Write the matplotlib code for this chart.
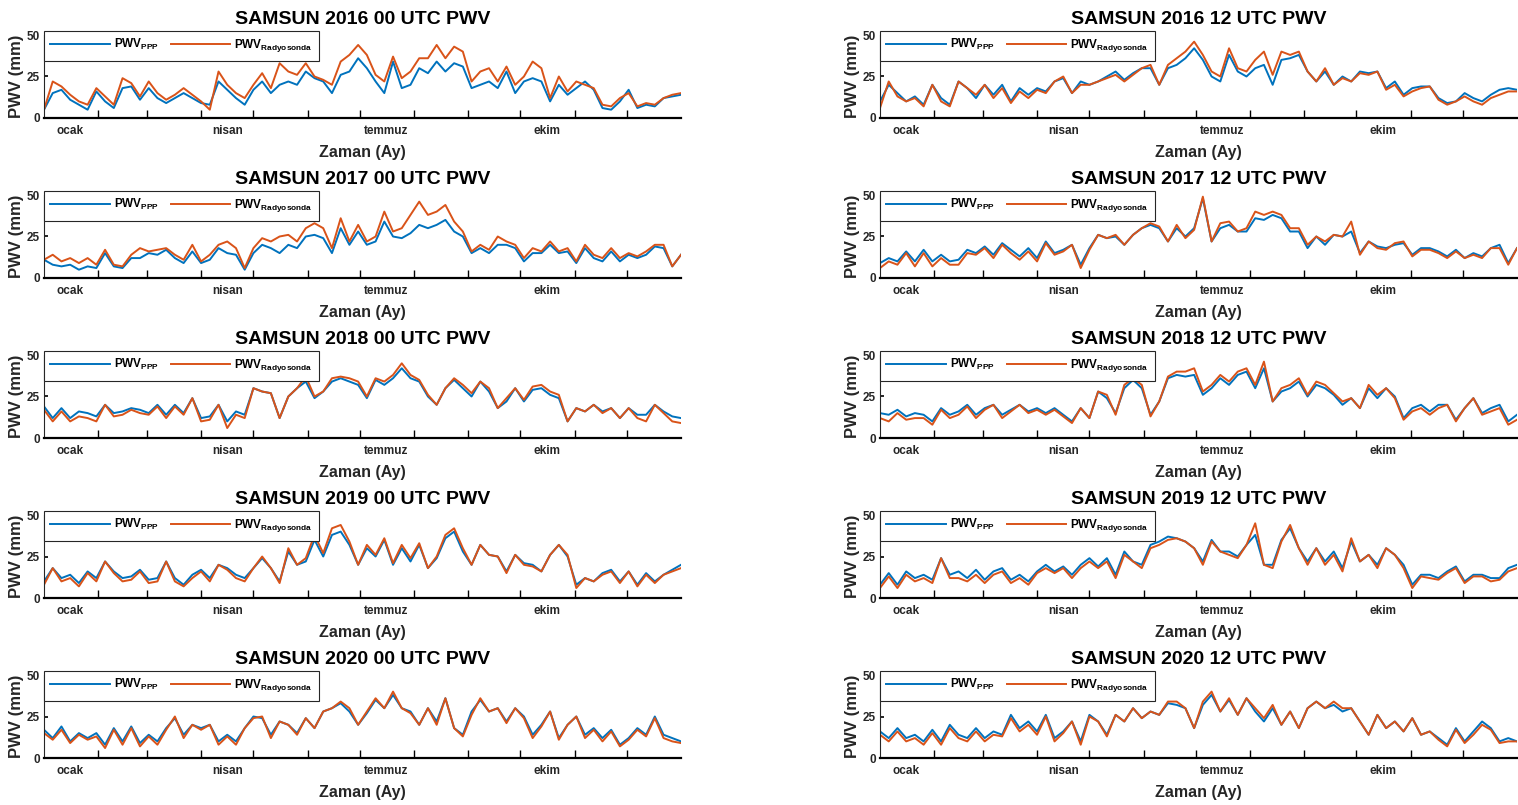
import matplotlib
matplotlib.use('Agg')
import matplotlib.pyplot as plt
import numpy as np

plt.rcParams['font.family'] = ['Liberation Sans', 'DejaVu Sans']
plt.rcParams['mathtext.fontset'] = 'custom'
plt.rcParams['mathtext.rm'] = 'Liberation Sans:bold'
plt.rcParams['mathtext.it'] = 'Liberation Sans:bold'
plt.rcParams['mathtext.bf'] = 'Liberation Sans:bold'

# gun (yilin gunu), 5 gunde bir okunan degerler
days = np.arange(0, 366, 5)

ppp_2016_00 = [5, 15, 17, 11, 8, 5, 16, 10, 6, 18,
               19, 11, 18, 12, 9, 12, 15, 12, 9, 8,
               22, 17, 12, 8, 17, 22, 15, 20, 22, 20,
               28, 24, 22, 15, 26, 28, 36, 30, 22, 15,
               34, 18, 20, 30, 27, 34, 28, 33, 31, 18,
               20, 22, 18, 28, 15, 22, 24, 22, 10, 20,
               14, 18, 22, 17, 6, 5, 10, 17, 6, 8,
               7, 12, 13, 14]
rs_2016_00 = [5, 22, 19, 14, 10, 8, 18, 13, 8, 24,
              21, 13, 22, 15, 11, 14, 18, 14, 10, 5,
              28, 20, 15, 12, 20, 27, 18, 33, 28, 26,
              33, 25, 23, 20, 34, 38, 44, 38, 26, 22,
              37, 24, 28, 36, 36, 44, 36, 43, 40, 22,
              28, 30, 22, 31, 20, 25, 34, 30, 12, 25,
              16, 22, 20, 18, 8, 7, 12, 15, 7, 9,
              8, 12, 14, 15]

ppp_2016_12 = [10, 20, 15, 10, 13, 8, 20, 12, 8, 22,
               18, 12, 20, 14, 20, 10, 18, 14, 18, 16,
               22, 24, 15, 22, 20, 22, 25, 28, 23, 27,
               30, 30, 20, 30, 32, 36, 42, 35, 25, 22,
               38, 28, 25, 30, 32, 20, 35, 36, 38, 28,
               22, 28, 20, 25, 22, 28, 27, 28, 18, 22,
               14, 18, 19, 19, 12, 9, 10, 15, 12, 10,
               14, 17, 18, 17]
rs_2016_12 = [6, 22, 13, 10, 12, 7, 20, 10, 7, 22,
              18, 14, 20, 12, 18, 9, 16, 12, 17, 15,
              22, 25, 15, 20, 20, 22, 24, 26, 22, 26,
              30, 32, 20, 32, 36, 40, 46, 38, 28, 25,
              42, 30, 28, 35, 40, 26, 40, 38, 40, 28,
              22, 30, 20, 24, 22, 27, 26, 28, 17, 20,
              13, 16, 18, 19, 11, 8, 10, 13, 10, 8,
              12, 14, 16, 16]

ppp_2017_00 = [11, 8, 7, 8, 5, 7, 6, 15, 7, 6,
               12, 12, 15, 14, 17, 12, 9, 16, 9, 11,
               18, 15, 14, 5, 15, 20, 18, 15, 20, 18,
               25, 26, 24, 15, 30, 20, 28, 20, 22, 34,
               25, 24, 27, 32, 30, 32, 35, 28, 25, 15,
               18, 15, 20, 20, 18, 10, 15, 15, 20, 15,
               16, 9, 18, 12, 10, 16, 10, 14, 12, 14,
               19, 18, 7, 14]
rs_2017_00 = [11, 14, 10, 12, 9, 12, 8, 17, 8, 7,
              14, 18, 16, 17, 18, 14, 11, 20, 10, 14,
              20, 22, 18, 6, 18, 24, 22, 25, 26, 22,
              30, 33, 30, 18, 36, 22, 32, 22, 25, 40,
              28, 30, 38, 46, 38, 40, 44, 34, 28, 16,
              20, 17, 25, 22, 20, 12, 18, 16, 22, 16,
              18, 10, 20, 14, 12, 18, 12, 15, 13, 16,
              20, 20, 7, 14]

ppp_2017_12 = [9, 12, 10, 16, 10, 17, 10, 14, 10, 11,
               17, 15, 19, 14, 21, 17, 13, 18, 12, 22,
               15, 17, 20, 8, 18, 26, 24, 25, 20, 26,
               30, 32, 30, 22, 30, 25, 30, 48, 22, 30,
               32, 28, 28, 36, 35, 38, 36, 28, 28, 18,
               25, 20, 26, 25, 28, 15, 22, 19, 18, 20,
               21, 14, 18, 18, 16, 13, 17, 12, 15, 13,
               18, 20, 9, 18]
rs_2017_12 = [6, 10, 8, 15, 7, 15, 7, 12, 8, 8,
              15, 14, 18, 12, 20, 15, 11, 16, 10, 21,
              14, 16, 20, 6, 17, 26, 24, 26, 20, 26,
              30, 33, 31, 22, 32, 24, 29, 49, 22, 33,
              34, 28, 30, 40, 38, 40, 38, 30, 30, 20,
              25, 22, 26, 25, 34, 14, 22, 18, 17, 21,
              22, 13, 17, 17, 15, 12, 16, 12, 14, 12,
              18, 18, 8, 18]

ppp_2018_00 = [19, 12, 18, 12, 16, 15, 13, 20, 15, 16,
               18, 17, 15, 20, 14, 20, 15, 24, 12, 13,
               20, 10, 16, 14, 30, 28, 27, 12, 25, 30,
               34, 24, 28, 34, 36, 34, 32, 24, 35, 32,
               36, 42, 36, 34, 25, 20, 30, 35, 30, 25,
               34, 28, 18, 22, 30, 22, 29, 30, 26, 24,
               10, 18, 16, 20, 16, 18, 12, 18, 14, 14,
               20, 16, 13, 12]
rs_2018_00 = [17, 10, 16, 10, 13, 12, 10, 20, 13, 14,
              17, 15, 14, 19, 12, 19, 14, 24, 10, 11,
              20, 6, 14, 12, 30, 28, 27, 12, 25, 30,
              37, 25, 28, 36, 37, 36, 34, 25, 36, 34,
              38, 45, 38, 35, 26, 20, 30, 36, 32, 27,
              34, 30, 18, 24, 30, 23, 31, 32, 28, 26,
              10, 18, 16, 20, 15, 18, 12, 18, 12, 10,
              20, 15, 10, 9]

ppp_2018_12 = [15, 14, 17, 13, 15, 14, 10, 18, 14, 16,
               20, 14, 18, 20, 14, 17, 20, 16, 18, 15,
               18, 14, 10, 18, 12, 28, 24, 15, 30, 35,
               30, 14, 22, 36, 38, 37, 38, 26, 30, 36,
               32, 38, 40, 30, 42, 22, 28, 30, 34, 25,
               32, 30, 26, 20, 24, 18, 30, 24, 30, 25,
               12, 18, 20, 16, 20, 20, 11, 18, 24, 15,
               18, 20, 10, 14]
rs_2018_12 = [12, 10, 15, 11, 12, 12, 8, 17, 12, 14,
              19, 12, 17, 20, 12, 16, 20, 15, 17, 14,
              17, 13, 9, 18, 12, 28, 26, 14, 32, 36,
              32, 13, 22, 37, 40, 40, 42, 28, 32, 38,
              34, 40, 42, 32, 46, 22, 30, 32, 36, 26,
              34, 32, 27, 22, 24, 18, 32, 26, 30, 24,
              11, 16, 18, 14, 18, 20, 10, 18, 24, 14,
              16, 18, 8, 11]

ppp_2019_00 = [10, 18, 12, 14, 9, 16, 12, 22, 16, 12,
               13, 17, 11, 12, 22, 12, 8, 14, 17, 12,
               20, 18, 14, 12, 18, 24, 18, 10, 28, 20,
               22, 35, 25, 38, 40, 32, 20, 30, 25, 35,
               20, 30, 22, 32, 18, 24, 36, 40, 28, 20,
               32, 26, 25, 16, 26, 21, 20, 16, 26, 32,
               25, 8, 12, 10, 15, 17, 10, 16, 8, 15,
               10, 14, 17, 20]
rs_2019_00 = [8, 18, 10, 12, 7, 15, 10, 22, 15, 10,
              11, 16, 9, 10, 22, 10, 7, 12, 16, 10,
              20, 17, 12, 10, 18, 25, 18, 9, 30, 20,
              24, 38, 27, 42, 44, 34, 20, 32, 26, 36,
              21, 32, 24, 33, 18, 25, 38, 42, 30, 20,
              32, 26, 25, 15, 26, 20, 19, 16, 26, 32,
              26, 6, 12, 10, 14, 16, 9, 16, 7, 14,
              9, 14, 16, 18]

ppp_2019_12 = [8, 15, 8, 16, 12, 14, 11, 24, 14, 16,
               12, 17, 11, 16, 18, 11, 14, 10, 16, 20,
               16, 19, 14, 20, 24, 19, 24, 14, 28, 22,
               20, 32, 34, 37, 36, 34, 30, 22, 35, 28,
               28, 25, 32, 38, 20, 20, 35, 42, 30, 22,
               30, 22, 28, 18, 34, 22, 26, 20, 30, 26,
               20, 8, 14, 14, 12, 16, 19, 10, 14, 14,
               12, 12, 18, 20]
rs_2019_12 = [6, 13, 6, 14, 10, 12, 9, 24, 12, 12,
              10, 14, 9, 14, 16, 9, 12, 8, 15, 18,
              15, 18, 12, 18, 22, 18, 22, 12, 26, 22,
              18, 30, 32, 35, 36, 34, 30, 20, 34, 28,
              26, 24, 32, 45, 20, 18, 34, 44, 30, 20,
              30, 20, 26, 16, 36, 22, 26, 18, 30, 26,
              18, 6, 13, 12, 11, 15, 18, 9, 13, 13,
              10, 11, 16, 18]

ppp_2020_00 = [17, 12, 19, 10, 15, 12, 15, 8, 18, 10,
               19, 9, 14, 10, 18, 24, 14, 20, 18, 20,
               10, 14, 10, 18, 25, 24, 14, 22, 20, 15,
               24, 18, 28, 30, 33, 28, 20, 27, 35, 30,
               38, 30, 28, 20, 30, 22, 36, 18, 14, 28,
               35, 28, 30, 22, 30, 25, 14, 20, 28, 12,
               20, 25, 14, 18, 12, 17, 8, 12, 18, 14,
               25, 14, 12, 10]
rs_2020_00 = [15, 11, 17, 9, 14, 11, 13, 6, 17, 8,
              18, 7, 13, 8, 17, 25, 12, 20, 17, 20,
              8, 13, 8, 18, 24, 25, 12, 22, 20, 14,
              24, 18, 28, 30, 34, 30, 20, 28, 36, 30,
              40, 30, 27, 20, 30, 20, 36, 18, 13, 26,
              36, 28, 30, 21, 30, 24, 12, 19, 28, 11,
              20, 25, 12, 17, 10, 16, 7, 11, 17, 13,
              24, 12, 10, 9]

ppp_2020_12 = [16, 12, 18, 12, 14, 10, 17, 10, 20, 14,
               12, 18, 12, 16, 14, 26, 18, 22, 16, 26,
               12, 16, 22, 10, 26, 22, 14, 26, 22, 30,
               24, 28, 26, 33, 32, 30, 18, 32, 38, 28,
               35, 26, 36, 28, 22, 30, 20, 28, 18, 30,
               34, 30, 32, 28, 30, 22, 14, 26, 18, 22,
               16, 24, 14, 16, 12, 8, 18, 10, 16, 22,
               18, 10, 12, 10]
rs_2020_12 = [14, 10, 16, 10, 12, 8, 15, 8, 18, 12,
              10, 16, 10, 14, 13, 24, 16, 20, 14, 25,
              10, 15, 22, 8, 25, 22, 13, 26, 22, 30,
              24, 28, 26, 34, 34, 30, 18, 34, 40, 28,
              36, 26, 36, 30, 24, 32, 20, 28, 18, 30,
              34, 30, 34, 30, 30, 22, 14, 26, 18, 22,
              16, 24, 14, 16, 11, 7, 17, 9, 14, 20,
              17, 9, 10, 10]

month_starts = [31, 59, 90, 120, 151, 181, 212, 243, 273, 304, 334]
label_days = [15, 105, 196, 288]
month_labels = ['ocak', 'nisan', 'temmuz', 'ekim']

panels = [
    ('SAMSUN 2016 00 UTC PWV', ppp_2016_00, rs_2016_00, 0, 0),
    ('SAMSUN 2016 12 UTC PWV', ppp_2016_12, rs_2016_12, 1, 0),
    ('SAMSUN 2017 00 UTC PWV', ppp_2017_00, rs_2017_00, 0, 1),
    ('SAMSUN 2017 12 UTC PWV', ppp_2017_12, rs_2017_12, 1, 1),
    ('SAMSUN 2018 00 UTC PWV', ppp_2018_00, rs_2018_00, 0, 2),
    ('SAMSUN 2018 12 UTC PWV', ppp_2018_12, rs_2018_12, 1, 2),
    ('SAMSUN 2019 00 UTC PWV', ppp_2019_00, rs_2019_00, 0, 3),
    ('SAMSUN 2019 12 UTC PWV', ppp_2019_12, rs_2019_12, 1, 3),
    ('SAMSUN 2020 00 UTC PWV', ppp_2020_00, rs_2020_00, 0, 4),
    ('SAMSUN 2020 12 UTC PWV', ppp_2020_12, rs_2020_12, 1, 4),
]

W, H = 1518, 805
fig = plt.figure(figsize=(W / 100, H / 100), dpi=100)
dark = '#262626'

for title, ppp, rs, col, row in panels:
    left = 44 if col == 0 else 880
    top = 35 + 160 * row
    ax = fig.add_axes([left / W, 1 - (top + 83) / H, 637 / W, 83 / H])
    ax.plot(days, ppp, color='#0072BD', lw=1.4, label=r'PWV$_{\mathrm{PPP}}$')
    ax.plot(days, rs, color='#D95319', lw=1.4, label=r'PWV$_{\mathrm{Radyosonda}}$')

    ax.set_xlim(0, 365)
    ax.set_ylim(0, 50)
    ax.set_yticks([0, 25, 50])
    ax.set_xticks(label_days)
    ax.set_xticklabels(month_labels)
    ax.set_xticks(month_starts, minor=True)
    ax.tick_params(axis='x', which='major', length=0, pad=5, labelsize=8.5, labelcolor=dark)
    ax.tick_params(axis='x', which='minor', direction='in', length=6, width=1, color='black')
    ax.tick_params(axis='y', direction='in', length=3, width=1.2, labelsize=8.5,
                   labelcolor=dark, pad=3)
    for lab in ax.get_xticklabels() + ax.get_yticklabels():
        lab.set_fontweight('bold')

    ax.spines['top'].set_visible(False)
    ax.spines['right'].set_visible(False)
    ax.spines['bottom'].set_linewidth(1.6)
    ax.spines['bottom'].set_color('black')
    ax.spines['left'].set_linewidth(0.8)
    ax.spines['left'].set_color(dark)

    ax.set_title(title, fontsize=14, fontweight='bold', pad=8)
    ax.set_ylabel('PWV (mm)', fontsize=12, fontweight='bold', color=dark, labelpad=2)
    ax.set_xlabel('Zaman (Ay)', fontsize=11.5, fontweight='bold', color=dark, labelpad=6)

    leg = ax.legend(loc='upper left', bbox_to_anchor=(0, 1.05), borderaxespad=0, ncol=2,
                    prop={'weight': 'bold', 'size': 8.5}, handlelength=5.0,
                    handletextpad=0.35, columnspacing=1.0, fancybox=False,
                    framealpha=1, edgecolor=dark, borderpad=0.55)
    leg.get_frame().set_linewidth(0.8)

fig.savefig('out.png', dpi=100)
